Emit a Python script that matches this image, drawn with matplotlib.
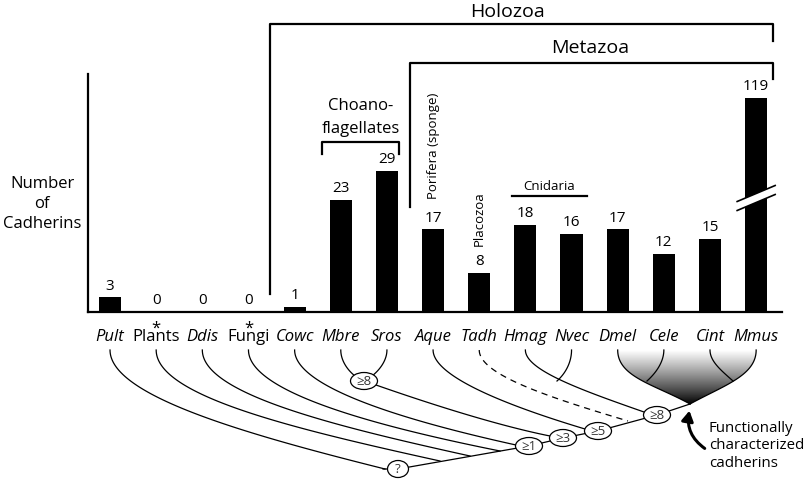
import numpy as np
import matplotlib
matplotlib.use("Agg")
import matplotlib.pyplot as plt
import matplotlib.transforms as mtrans
from matplotlib.patches import Ellipse, Polygon, FancyArrowPatch

plt.rcParams['font.family'] = ['Open Sans', 'DejaVu Sans']

# data
taxa = ['Pult', 'Plants', 'Ddis', 'Fungi', 'Cowc', 'Mbre', 'Sros', 'Aque',
        'Tadh', 'Hmag', 'Nvec', 'Dmel', 'Cele', 'Cint', 'Mmus']
italic = [True, False, True, False, True, True, True, True,
          True, True, True, True, True, True, True]
cadherins = [3, 0, 0, 0, 1, 23, 29, 17, 8, 18, 16, 17, 12, 15, 119]
starred = ['Plants', 'Fungi']
axis_cap = 44  # shown height of the broken Mmus bar
node_labels = ['?', '\u22651', '\u22653', '\u22655', '\u22658']

fig = plt.figure(figsize=(8.08, 4.81), dpi=100)
W, H = 808, 481

# bar panel
ax = fig.add_axes([88 / W, (H - 313) / H, (782 - 88) / W, (313 - 75) / H])
x = np.arange(len(taxa))
shown = [min(v, axis_cap) for v in cadherins]
ax.bar(x, shown, width=0.48, color='black')
ax.set_xlim(-0.477, 14.56)
ax.set_ylim(0, 49)
for s in ['top', 'right']:
    ax.spines[s].set_visible(False)
ax.spines['left'].set_linewidth(1.6)
ax.spines['bottom'].set_linewidth(1.6)
ax.set_yticks([])
ax.set_xticks([])
for i, v in enumerate(cadherins):
    ax.text(i, shown[i] + 1.0, str(v), ha='center', va='bottom', fontsize=11)

# overlay in pixel units
ov = fig.add_axes([0, 0, 1, 1], facecolor='none')
ov.set_xlim(0, W)
ov.set_ylim(H, 0)
ov.axis('off')
lab_tr = mtrans.blended_transform_factory(ax.transData, ov.transData)

# taxon names (with the asterisk as part of the same text)
for i, (name, it) in enumerate(zip(taxa, italic)):
    style = 'italic' if it else 'normal'
    txt = '*\n' + name if name in starred else name
    ov.text(i, 341, txt, transform=lab_tr, ha='center', va='baseline',
            fontsize=12, style=style, linespacing=0.38, multialignment='center')


def px(i):
    # bar centre in overlay pixels
    return ax.transData.transform((i, 0))[0]


def bez(p0, p3, d0, d3, c1=0.15, c2=0.5, n=80):
    p0 = np.array(p0, float); p3 = np.array(p3, float)
    L = np.hypot(*(p3 - p0))
    d0 = np.array(d0, float) / np.hypot(*d0)
    d3 = np.array(d3, float) / np.hypot(*d3)
    p1 = p0 + c1 * L * d0
    p2 = p3 - c2 * L * d3
    t = np.linspace(0, 1, n)[:, None]
    pts = ((1 - t) ** 3 * p0 + 3 * (1 - t) ** 2 * t * p1
           + 3 * (1 - t) * t ** 2 * p2 + t ** 3 * p3)
    return pts[:, 0], pts[:, 1]


lw = 0.9
top = 351
for i, (xe, ye, sl) in zip(range(4), [(385, 470, 0.25), (440, 462, 0.22),
                                      (470, 457, 0.22), (500, 452, 0.2)]):
    ov.plot(*bez((px(i), top), (xe, ye), (0, 1), (1, sl)), color='k', lw=lw)
ov.plot(*bez((px(4), top), (516, 446), (0, 1), (1, 0.22)), color='k', lw=lw)

# choanoflagellates
ov.plot(*bez((px(5), top), (355, 377), (0, 1), (1, 0.8), c1=0.3, c2=0.4), color='k', lw=lw)
ov.plot(*bez((px(6), top), (372, 377), (0, 1), (-1, 0.8), c1=0.3, c2=0.4), color='k', lw=lw)
ov.plot(*bez((376, 386), (550, 437), (1, 0.35), (1, 0.2), c1=0.3, c2=0.3), color='k', lw=lw)

# metazoa
ov.plot(*bez((px(7), top), (585, 430), (0, 1), (1, 0.3)), color='k', lw=lw)
ov.plot(*bez((px(8), top), (628, 422), (0, 1), (1, 0.3)), color='k', lw=lw,
        dashes=(5, 4))
ov.plot(*bez((px(9), top), (644, 413), (0, 1), (1, 0.35)), color='k', lw=lw)
ov.plot(*bez((px(10), top), (557, 382), (0, 1), (-1, 0.9), c1=0.3, c2=0.4), color='k', lw=lw)

# bilateria fan with gradient
apex = (690, 405)
lx, ly = bez((px(11), top), apex, (0, 1), (1, 0.55), c1=0.3, c2=0.45)
rx, ry = bez((px(14), top), apex, (0, 1), (-1, 0.55), c1=0.3, c2=0.45)
fan = Polygon(np.column_stack([np.r_[lx, rx[::-1]], np.r_[ly, ry[::-1]]]),
              closed=True, facecolor='none', edgecolor='none')
ov.add_patch(fan)
grad = np.linspace(1, 0.0, 100)[:, None] ** 0.9
im = ov.imshow(grad, extent=(px(11) - 2, px(14) + 2, apex[1], top), origin='upper',
               cmap='gray', vmin=0, vmax=1, aspect='auto', zorder=1)
im.set_clip_path(fan)
ov.set_xlim(0, W)
ov.set_ylim(H, 0)
ov.plot(lx, ly, color='k', lw=lw, zorder=2)
ov.plot(rx, ry, color='k', lw=lw, zorder=2)
ov.plot(*bez((px(12), top), (647, 382), (0, 1), (-1, 0.9), c1=0.3, c2=0.4), color='k', lw=lw, zorder=2)
ov.plot(*bez((px(13), top), (733, 382), (0, 1), (1, 0.9), c1=0.3, c2=0.4), color='k', lw=lw, zorder=2)

# backbone
nodes = [(398, 470), (529, 447), (563, 439), (598, 432), (657, 416)]
bx = [383] + [n[0] for n in nodes] + [apex[0]]
by = [470] + [n[1] for n in nodes] + [apex[1]]
ov.plot(bx, by, color='k', lw=lw, zorder=2)
for (nx, ny), lab in zip(nodes, node_labels):
    w = 21 if lab == '?' else 27
    ov.add_patch(Ellipse((nx, ny), w, 17, facecolor='white', edgecolor='k', lw=0.9, zorder=3))
    ov.text(nx, ny, lab, ha='center', va='center', fontsize=9.5, zorder=4, color='#333333')
ov.add_patch(Ellipse((364, 382), 27, 17, facecolor='white', edgecolor='k', lw=0.9, zorder=3))
ov.text(364, 382, '\u22658', ha='center', va='center', fontsize=9.5, zorder=4, color='#333333')

# brackets
blw = 1.6
ov.plot([270, 270, 773, 773], [295, 25, 25, 42], color='k', lw=blw)
ov.plot([410, 410, 773, 773], [208, 64, 64, 80], color='k', lw=blw)
ov.plot([322, 322, 399, 399], [155, 143, 143, 155], color='k', lw=blw)
ov.plot([512, 587], [197, 197], color='k', lw=blw)
ov.text(508, 12, 'Holozoa', ha='center', va='center', fontsize=14)
ov.text(590, 48, 'Metazoa', ha='center', va='center', fontsize=14)
ov.text(361, 106, 'Choano-', ha='center', va='center', fontsize=12)
ov.text(361, 129, 'flagellates', ha='center', va='center', fontsize=12)
ov.text(px(7), 146, 'Porifera (sponge)', rotation=90, ha='center', va='center', fontsize=9.5)
ov.text(px(8), 219, 'Placozoa', rotation=90, ha='center', va='center', fontsize=9.5)
ov.text(549, 187, 'Cnidaria', ha='center', va='center', fontsize=9.5)
ov.text(42, 204, 'Number\nof\nCadherins', ha='center', va='center', fontsize=12,
        linespacing=1.3)

# axis break on the tall bar
mx = px(14)
for dy in (-4.5, 4.5):
    ov.plot([mx - 19, mx + 19], [199 + dy + 8, 199 + dy - 8], color='k', lw=1.2, zorder=5)
ov.add_patch(Polygon([(mx - 19, 202.5), (mx + 19, 186.5), (mx + 19, 195.5), (mx - 19, 211.5)],
                     closed=True, facecolor='white', edgecolor='none', zorder=4))

# arrow and note
ov.add_patch(FancyArrowPatch((707, 451), (690, 409), connectionstyle='arc3,rad=-0.35',
                             arrowstyle='-|>,head_length=6,head_width=3.5', lw=2.2,
                             color='k', zorder=5))
ov.text(709, 446, 'Functionally\ncharacterized\ncadherins', ha='left', va='center',
        fontsize=10.8, linespacing=1.2)

fig.savefig('out.png', dpi=100)
